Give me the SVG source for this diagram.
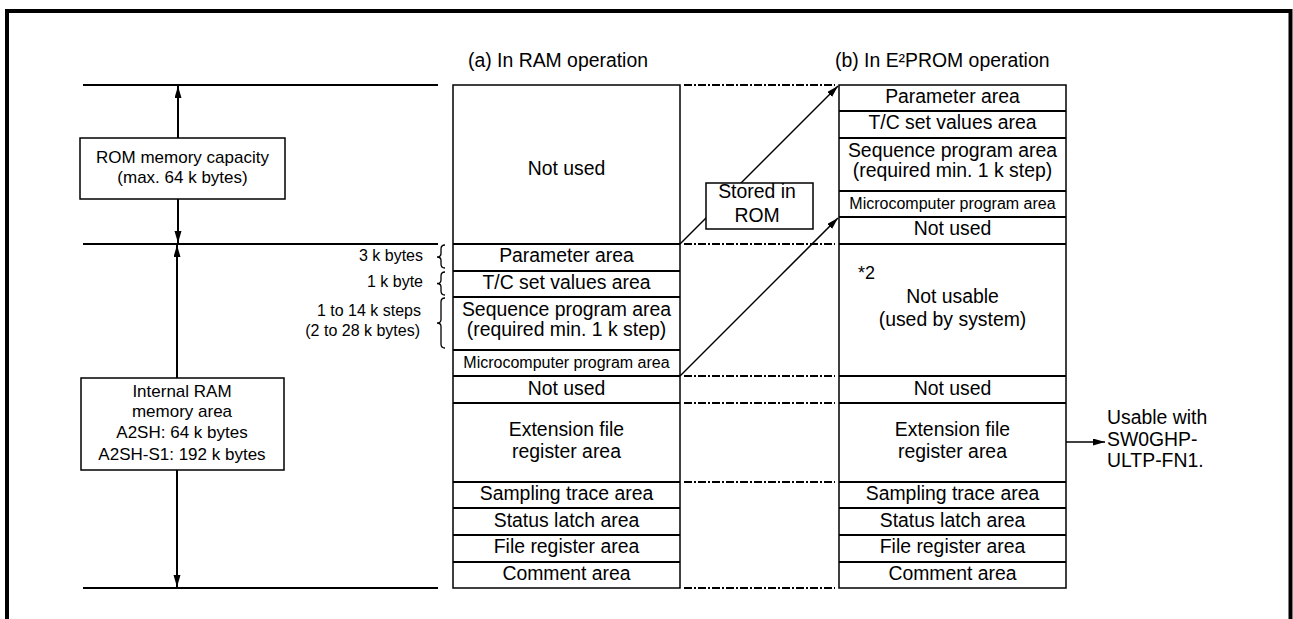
<svg xmlns="http://www.w3.org/2000/svg" width="1293" height="619" viewBox="0 0 1293 619">
  <style>
    text { font-family: "Liberation Sans", Arial, sans-serif; fill: #000; }
    .t { font-size: 19.4px; text-anchor: middle; }
    .s { font-size: 16px; text-anchor: middle; }
    .lbl { font-size: 17px; text-anchor: middle; }
    .side { font-size: 16px; text-anchor: end; }
    .box { fill: #fff; stroke: #000; stroke-width: 1.5; }
    .row { stroke: #000; stroke-width: 1.8; fill: none; }
    .rule { stroke: #000; stroke-width: 2; fill: none; }
    .dim { stroke: #000; stroke-width: 2; fill: none; }
    .dash { stroke: #000; stroke-width: 2; stroke-dasharray: 8 2 2 2; fill: none; }
    .conn { stroke: #000; stroke-width: 1.5; fill: none; }
    .brace { stroke: #000; stroke-width: 1.3; fill: none; }
  </style>
  <defs>
    <marker id="ah" markerUnits="userSpaceOnUse" markerWidth="13" markerHeight="8" refX="12" refY="3.5" orient="auto-start-reverse">
      <path d="M0,0 L12,3.5 L0,7 z" fill="#000"/>
    </marker>
  </defs>

  <rect width="1293" height="619" fill="#fff"/>
  <!-- frame (open at the bottom) -->
  <path d="M7,619 V11 H1290.5 V619" fill="none" stroke="#000" stroke-width="4"/>

  <!-- column titles -->
  <text x="468" y="67" style="font-size:19.4px">(a) In RAM operation</text>
  <text x="835" y="67" style="font-size:19.4px">(b) In E²PROM operation</text>

  <!-- memory range rules on the left -->
  <g id="ranges">
    <path class="rule" d="M83,85 H438 M83,244 H438 M83,588 H438"/>
    <path class="dim" d="M178,86 V243" marker-start="url(#ah)" marker-end="url(#ah)"/>
    <path class="dim" d="M177,245 V587" marker-start="url(#ah)" marker-end="url(#ah)"/>
  </g>

  <g id="rom-capacity">
    <rect class="box" x="80" y="138" width="205" height="61"/>
    <text class="lbl" x="182.5" y="163">ROM memory capacity</text>
    <text class="lbl" x="182.5" y="183">(max. 64 k bytes)</text>
  </g>

  <g id="internal-ram">
    <rect class="box" x="81" y="378" width="203" height="92"/>
    <text class="lbl" x="182" y="397">Internal RAM</text>
    <text class="lbl" x="182" y="417">memory area</text>
    <text class="lbl" x="182" y="438">A2SH: 64 k bytes</text>
    <text class="lbl" x="182" y="460">A2SH-S1: 192 k bytes</text>
  </g>

  <!-- size annotations with braces -->
  <g id="sizes">
    <text class="side" x="423" y="261">3 k bytes</text>
    <text class="side" x="423" y="287">1 k byte</text>
    <text class="side" x="421" y="316">1 to 14 k steps</text>
    <text class="side" x="420" y="336">(2 to 28 k bytes)</text>
    <path class="brace" d="M445,245 Q441,245 441,249 L441,253.5 Q441,257 437,257 Q441,257 441,260.5 L441,264 Q441,268 445,268"/>
    <path class="brace" d="M445,272 Q441,272 441,276 L441,280 Q441,283.5 437,283.5 Q441,283.5 441,287 L441,291 Q441,295 445,295"/>
    <path class="brace" d="M445,298 Q441,298 441,302 L441,319.5 Q441,323 437,323 Q441,323 441,326.5 L441,344 Q441,348 445,348"/>
  </g>

  <!-- (a) RAM operation map -->
  <g id="ram-map">
    <rect class="box" x="453" y="85" width="227" height="503"/>
    <path class="row" d="M453,244 H680 M453,271 H680 M453,297 H680 M453,350 H680 M453,376 H680 M453,403 H680 M453,482 H680 M453,508 H680 M453,535 H680 M453,562 H680"/>
    <text class="t" x="566.5" y="175">Not used</text>
    <text class="t" x="566.5" y="262">Parameter area</text>
    <text class="t" x="566.5" y="289">T/C set values area</text>
    <text class="t" x="566.5" y="316">Sequence program area</text>
    <text class="t" x="566.5" y="336">(required min. 1 k step)</text>
    <text class="s" x="566.5" y="368">Microcomputer program area</text>
    <text class="t" x="566.5" y="395">Not used</text>
    <text class="t" x="566.5" y="436">Extension file</text>
    <text class="t" x="566.5" y="458">register area</text>
    <text class="t" x="566.5" y="500">Sampling trace area</text>
    <text class="t" x="566.5" y="527">Status latch area</text>
    <text class="t" x="566.5" y="553">File register area</text>
    <text class="t" x="566.5" y="580">Comment area</text>
  </g>

  <!-- (b) E2PROM operation map -->
  <g id="eeprom-map">
    <rect class="box" x="839" y="85" width="227" height="503"/>
    <path class="row" d="M839,111 H1066 M839,138 H1066 M839,191 H1066 M839,217 H1066 M839,244 H1066 M839,376 H1066 M839,403 H1066 M839,482 H1066 M839,508 H1066 M839,535 H1066 M839,562 H1066"/>
    <text class="t" x="952.5" y="103">Parameter area</text>
    <text class="t" x="952.5" y="129">T/C set values area</text>
    <text class="t" x="952.5" y="157">Sequence program area</text>
    <text class="t" x="952.5" y="177">(required min. 1 k step)</text>
    <text class="s" x="952.5" y="209">Microcomputer program area</text>
    <text class="t" x="952.5" y="235">Not used</text>
    <text x="858" y="279" style="font-size:18px">*2</text>
    <text class="t" x="952.5" y="303">Not usable</text>
    <text class="t" x="952.5" y="326">(used by system)</text>
    <text class="t" x="952.5" y="395">Not used</text>
    <text class="t" x="952.5" y="436">Extension file</text>
    <text class="t" x="952.5" y="458">register area</text>
    <text class="t" x="952.5" y="500">Sampling trace area</text>
    <text class="t" x="952.5" y="527">Status latch area</text>
    <text class="t" x="952.5" y="553">File register area</text>
    <text class="t" x="952.5" y="580">Comment area</text>
  </g>

  <!-- connectors between the two maps -->
  <g id="connectors">
    <path class="dash" d="M684,85 H835 M684,244 H835 M684,376 H835 M684,403 H835 M684,482 H835 M684,588 H835"/>
    <path class="conn" d="M680,244 L838,86" marker-end="url(#ah)"/>
    <path class="conn" d="M680,376 L838,218" marker-end="url(#ah)"/>
    <path class="conn" d="M1066,442 H1105" marker-end="url(#ah)"/>
  </g>

  <g id="stored-in-rom">
    <rect class="box" x="706" y="183" width="107" height="46"/>
    <text class="t" x="757" y="198">Stored in</text>
    <text class="t" x="757" y="222">ROM</text>
  </g>

  <g id="usable-note">
    <text x="1107" y="424" style="font-size:19.4px">Usable with</text>
    <text x="1107" y="446" style="font-size:19.4px">SW0GHP-</text>
    <text x="1107" y="467" style="font-size:19.4px">ULTP-FN1.</text>
  </g>
</svg>
